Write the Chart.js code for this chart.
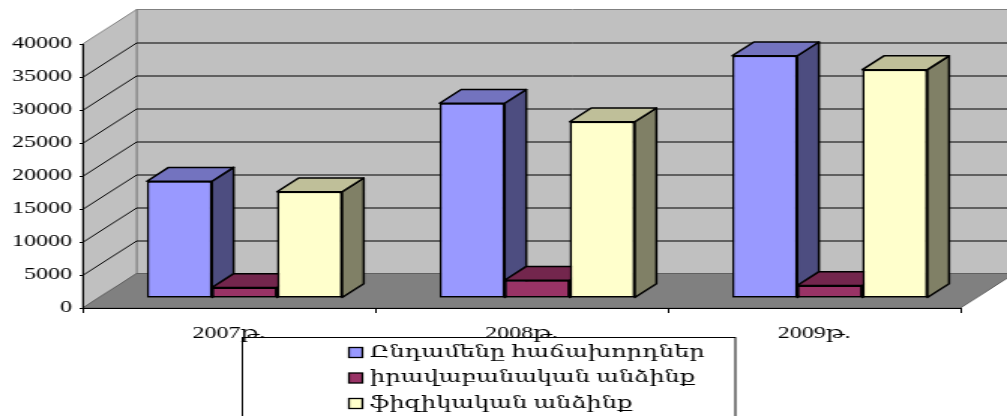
<!DOCTYPE html>
<html>
<head>
<meta charset="utf-8">
<script src="https://cdn.jsdelivr.net/npm/chart.js@4.4.1/dist/chart.umd.min.js"></script>
<style>
    html, body { margin: 0; padding: 0; background: #fff; overflow: hidden; }
    /* the original picture is an Excel chart stretched sideways, so we draw narrow and stretch */
    #wrap { width: 671px; height: 416px; transform: scaleX(1.50075); transform-origin: 0 0; }
</style>
</head>
<body>
<div id="wrap"><canvas id="chart" width="671" height="416"></canvas></div>
<script>
// DATA
const categories = ['2007թ.', '2008թ.', '2009թ.'];
const seriesNames = ['Ընդամենը հաճախորդներ', 'իրավաբանական անձինք', 'ֆիզիկական անձինք'];
const totalClients = [17700, 29500, 36700];
const legalEntities = [1600, 2700, 1900];
const individuals = [16100, 26700, 34600];
const yMin = 0, yMax = 40000, yStep = 5000;

// colours: front, top, side
const fronts = ['#9999FF', '#993366', '#FFFFCC'];
const tops = ['#7373BF', '#73264D', '#BFBF99'];
const sides = ['#4D4D80', '#4D1A33', '#808066'];

const FONT = '"Liberation Serif", "DejaVu Serif", serif';

// 3D depth of the floor (px) and where the bars sit inside it
const DX = 36, DY = -34.5;
const F0 = 0.29, FD = 0.4;

function poly(ctx, pts, fill, stroke, lw) {
    ctx.beginPath();
    ctx.moveTo(pts[0][0], pts[0][1]);
    for (let i = 1; i < pts.length; i++) ctx.lineTo(pts[i][0], pts[i][1]);
    ctx.closePath();
    if (fill) { ctx.fillStyle = fill; ctx.fill(); }
    if (stroke) { ctx.strokeStyle = stroke; ctx.lineWidth = lw || 1; ctx.stroke(); }
}

// --- walls, floor, 3D faces, legend ---
const box3d = {
    id: 'box3d',
    beforeDraw(chart) {
        const { ctx, chartArea: a, scales: { y } } = chart;
        const y0 = y.getPixelForValue(yMin), yT = y.getPixelForValue(yMax);
        const L = a.left, R = a.right;
        ctx.save();
        // back wall
        poly(ctx, [[L + DX, yT + DY], [R + DX, yT + DY], [R + DX, y0 + DY], [L + DX, y0 + DY]], '#C0C0C0', '#808080', 1);
        // left wall
        poly(ctx, [[L, yT], [L + DX, yT + DY], [L + DX, y0 + DY], [L, y0]], '#C0C0C0', '#808080', 1);
        // floor
        poly(ctx, [[L, y0], [L + DX, y0 + DY], [R + DX, y0 + DY], [R, y0]], '#808080', '#606060', 1);
        // gridlines
        ctx.strokeStyle = '#000';
        ctx.lineWidth = 1;
        for (let v = yMin + yStep; v < yMax; v += yStep) {
            const py = Math.round(y.getPixelForValue(v)) + 0.5;
            ctx.beginPath();
            ctx.moveTo(L, py);
            ctx.lineTo(L + DX, py + DY);
            ctx.lineTo(R + DX, py + DY);
            ctx.stroke();
        }
        ctx.restore();
    },
    beforeDatasetsDraw(chart) {
        chart.ctx.save();
        chart.ctx.translate(F0 * DX, F0 * DY);
    },
    afterDatasetsDraw(chart) {
        const ctx = chart.ctx;
        const dx = FD * DX, dy = FD * DY;
        // redraw series left to right so each front covers the previous side face
        chart.data.datasets.forEach((ds, i) => {
            chart.getDatasetMeta(i).data.forEach(bar => {
                const l = bar.x - bar.width / 2, r = bar.x + bar.width / 2;
                ctx.lineJoin = 'round';
                poly(ctx, [[r, bar.y], [r + dx, bar.y + dy], [r + dx, bar.base + dy], [r, bar.base]], sides[i], '#000', 1.5);
                poly(ctx, [[l, bar.y], [r, bar.y], [r + dx, bar.y + dy], [l + dx, bar.y + dy]], tops[i], '#000', 1.5);
                bar.draw(ctx);
            });
        });
        ctx.restore();
    },
    afterDraw(chart) {
        const ctx = chart.ctx;
        ctx.save();
        ctx.strokeStyle = '#000';
        ctx.lineWidth = 1;
        ctx.strokeRect(161.5, 337.5, 328.5, 100);
        ctx.font = '16px ' + FONT;
        ctx.textBaseline = 'middle';
        const rows = [352.5, 378, 403.5];
        seriesNames.forEach((name, i) => {
            ctx.fillStyle = fronts[i];
            ctx.fillRect(232.5, rows[i] - 5, 9, 10);
            ctx.strokeStyle = '#000';
            ctx.lineWidth = 1.3;
            ctx.strokeRect(232.5, rows[i] - 5, 9, 10);
            ctx.fillStyle = '#000';
            ctx.fillText(name, 246.5, rows[i]);
        });
        ctx.restore();
    }
};

const series = [totalClients, legalEntities, individuals];

new Chart(document.getElementById('chart'), {
    type: 'bar',
    data: {
        labels: categories,
        datasets: series.map((vals, i) => ({
            label: seriesNames[i],
            data: vals,
            backgroundColor: fronts[i],
            borderColor: '#000',
            borderWidth: 1.5,
            borderSkipped: false,
            categoryPercentage: 0.667,
            barPercentage: 1,
            clip: false
        }))
    },
    options: {
        responsive: false,
        animation: false,
        layout: { padding: { top: 44, right: 31, left: 0, bottom: 0 } },
        plugins: {
            legend: { display: false },
            tooltip: { enabled: false }
        },
        scales: {
            x: {
                afterFit(scale) { scale.height = 108; },
                grid: { drawOnChartArea: false, tickLength: 5, color: '#000', offset: true },
                border: { color: '#000', width: 1 },
                ticks: { font: { family: FONT, size: 16 }, color: '#000', padding: 11 }
            },
            y: {
                min: yMin, max: yMax,
                afterFit(scale) { scale.width = 55; },
                grid: { drawOnChartArea: false, tickLength: 2, color: '#000' },
                border: { color: '#000', width: 1 },
                ticks: {
                    stepSize: yStep, font: { family: FONT, size: 16 }, color: '#000', padding: 5,
                    callback: v => String(v)
                }
            }
        }
    },
    plugins: [box3d]
});
</script>
</body>
</html>
